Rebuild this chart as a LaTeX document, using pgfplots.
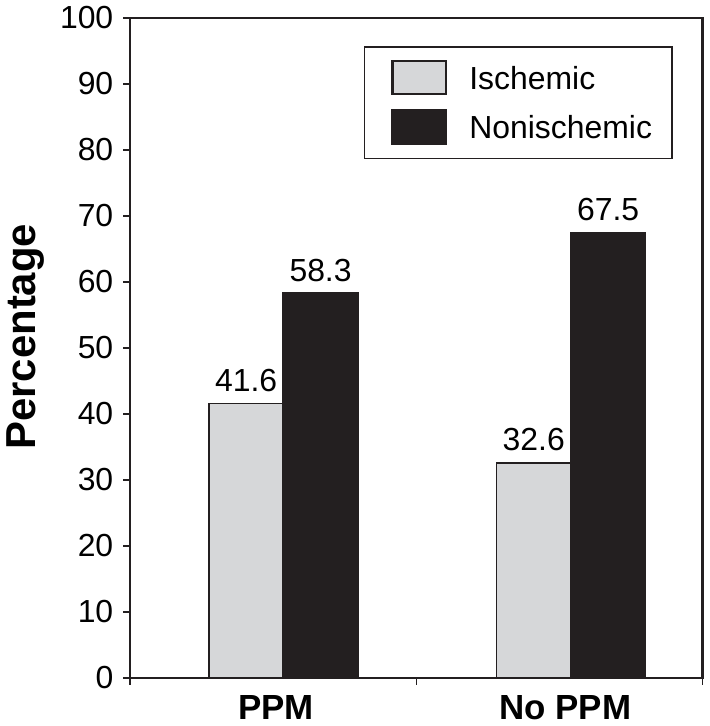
\documentclass[border=0pt]{standalone}
\usepackage{pgfplots}
\pgfplotsset{compat=1.18}
\usepackage{fontspec}
\setmainfont{Liberation Sans}
\definecolor{isch}{HTML}{D6D7D9}
\definecolor{nonisch}{HTML}{231F20}
\begin{document}
\begin{tikzpicture}
\begin{axis}[
  scale only axis,
  width=287pt, height=331pt,
  xmin=-0.5, xmax=1.5,
  ymin=0, ymax=100,
  ytick={0,10,...,100},
  xtick={-0.5,0.5,1.5},
  xticklabels={},
  extra x ticks={0.01,1.02},
  extra x tick labels={\textbf{PPM},\textbf{No PPM}},
  extra x tick style={major tick length=0pt, tick label style={font=\fontsize{17.5}{18}\selectfont, yshift=-5pt}},
  tick align=outside,
  tick pos=left,
  major tick length=3.5pt,
  axis line style={line width=1.1pt, color=nonisch},
  tick style={line width=0.8pt, color=nonisch},
  /pgf/number format/assume math mode=true,
  yticklabel style={font=\fontsize{16}{18}\selectfont, xshift=-1.5pt},
  ylabel={\textbf{Percentage}},
  ylabel style={font=\fontsize{21}{22}\selectfont, at={(ticklabel cs:0.517)}, yshift=1pt},
  ybar=0pt,
  bar width=0.26,
  nodes near coords,
  nodes near coords style={font=\fontsize{16}{18}\selectfont, color=black, yshift=2pt},
  point meta=explicit symbolic,
  legend style={at={(0.408,0.957)}, anchor=north west, draw=nonisch, line width=0.8pt,
    font=\fontsize{16}{18}\selectfont, inner xsep=8pt, inner ysep=6.5pt,
    row sep=6.5pt},
  legend image code/.code={\path (-5.5pt,0pt); \draw[#1, line width=1.2pt] (0pt,-7.5pt) rectangle (27pt,9pt);},
  legend cell align=left,
]
\addplot[fill=isch, draw=nonisch, line width=0.9pt] coordinates {(0.035,41.6)[41.6] (1.04,32.6)[32.6]};
\addplot[fill=nonisch, draw=nonisch, line width=0.9pt] coordinates {(0.035,58.3)[58.3] (1.04,67.5)[67.5]};
\legend{\hspace{9pt}Ischemic,\hspace{9pt}Nonischemic}
\end{axis}
\end{tikzpicture}
\end{document}
